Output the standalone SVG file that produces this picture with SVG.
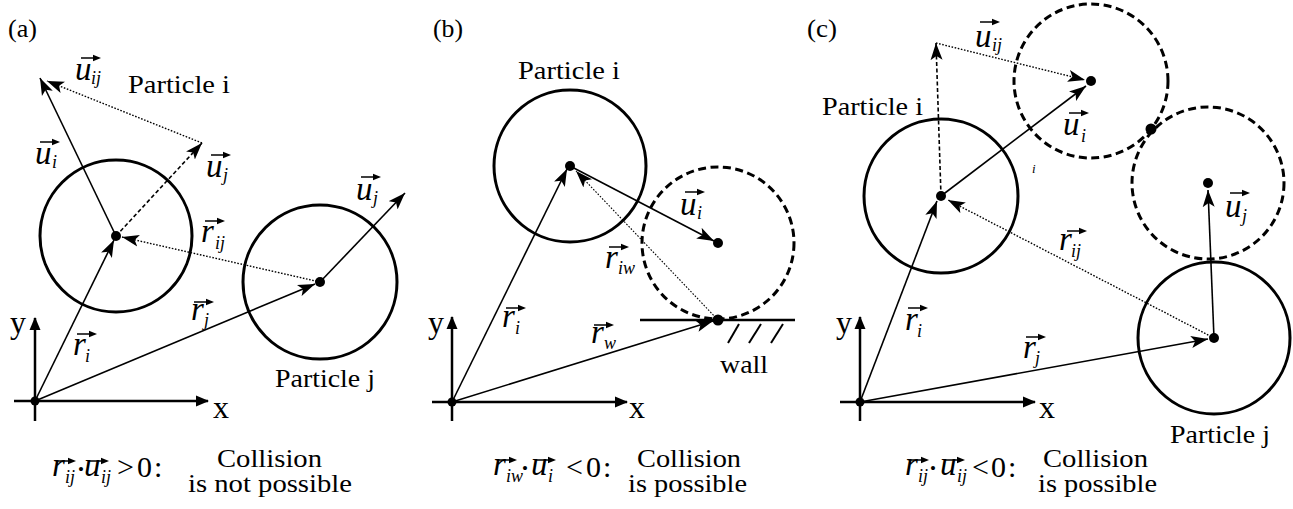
<svg xmlns="http://www.w3.org/2000/svg" xmlns:xlink="http://www.w3.org/1999/xlink" width="1293" height="509" viewBox="0 0 1293 509" font-family="Liberation Serif, Times New Roman, serif">
<style>
.bg{fill:#fff}
.circ{fill:none;stroke:#000;stroke-width:3}
.dcirc{fill:none;stroke:#000;stroke-width:3;stroke-dasharray:8 4.5}
.dot{fill:#000}
.axis{fill:none;stroke:#000;stroke-width:2.5}
.vec{fill:none;stroke:#000;stroke-width:1.6}
.dotted{fill:none;stroke:#000;stroke-width:1.4;stroke-dasharray:1.6 1.6}
.dashed{fill:none;stroke:#000;stroke-width:1.6;stroke-dasharray:4 2.5}
.wall{fill:none;stroke:#000;stroke-width:2.5}
.hatch{fill:none;stroke:#000;stroke-width:2}
.t{font-size:26px;fill:#000}
.ax{font-size:32px;fill:#000}
.m{font-style:italic;font-size:33px;fill:#000}
.s{font-style:italic;font-size:18px;fill:#000}
.op{font-size:30px;fill:#000}
.bul{font-size:17px;fill:#000}
</style>
<defs>
<marker id="ah" markerUnits="userSpaceOnUse" markerWidth="18" markerHeight="13" refX="17" refY="6.5" orient="auto"><path d="M0,0.5 L17,6.5 L0,12.5 L4,6.5 Z" fill="#000"/></marker>
<marker id="axh" markerUnits="userSpaceOnUse" markerWidth="14" markerHeight="12" refX="12" refY="6" orient="auto"><path d="M0,0.5 L13,6 L0,11.5 Z" fill="#000"/></marker>
<g id="ov"><path d="M0,0 H14" stroke="#000" stroke-width="1.5"/><path d="M12,-3.2 L20,0 L12,3.2 Z" fill="#000"/></g>
</defs>
<rect class="bg" x="0" y="0" width="1293" height="509"/>

<!-- Panel (a) -->
<g id="panel-a-label"><text class="t" x="8" y="37" textLength="29" lengthAdjust="spacingAndGlyphs">(a)</text></g>
<g id="a-axes">
<line class="axis" x1="14" y1="401" x2="208" y2="401" marker-end="url(#axh)"/>
<line class="axis" x1="35" y1="421" x2="35" y2="318" marker-end="url(#axh)"/>
<circle class="dot" cx="35" cy="401" r="4.5"/>
<text class="ax" x="213" y="418">x</text>
<text class="ax" x="10" y="333">y</text>
</g>
<g id="a-particle-i">
<circle class="circ" cx="116" cy="236" r="76"/>
<circle class="dot" cx="116" cy="236" r="5"/>
<text class="t" x="128" y="93" textLength="102" lengthAdjust="spacingAndGlyphs">Particle i</text>
</g>
<g id="a-particle-j">
<circle class="circ" cx="320" cy="282" r="77"/>
<circle class="dot" cx="320" cy="282" r="5"/>
<text class="t" x="275" y="387" textLength="100" lengthAdjust="spacingAndGlyphs">Particle j</text>
</g>
<g id="a-connectors">
<line class="vec" x1="35" y1="401" x2="114" y2="240" marker-end="url(#ah)"/>
<line class="vec" x1="35" y1="401" x2="315" y2="284" marker-end="url(#ah)"/>
<line class="dotted" x1="320" y1="282" x2="122" y2="237" marker-end="url(#ah)"/>
<line class="vec" x1="116" y1="236" x2="40" y2="78" marker-end="url(#ah)"/>
<line class="dashed" x1="116" y1="236" x2="202" y2="143" marker-end="url(#ah)"/>
<line class="dotted" x1="202" y1="143" x2="47" y2="81" marker-end="url(#ah)"/>
<line class="vec" x1="320" y1="282" x2="405" y2="193" marker-end="url(#ah)"/>
</g>
<g id="a-labels">
<use xlink:href="#ov" x="81" y="58"/><text class="m" x="75" y="80">u</text><text class="s" x="91" y="84">ij</text>
<use xlink:href="#ov" x="40" y="142"/><text class="m" x="35" y="164">u</text><text class="s" x="52" y="168">i</text>
<use xlink:href="#ov" x="211" y="155"/><text class="m" x="206" y="177">u</text><text class="s" x="223" y="181">j</text>
<use xlink:href="#ov" x="361" y="177"/><text class="m" x="356" y="200">u</text><text class="s" x="373" y="204">j</text>
<use xlink:href="#ov" x="205" y="221"/><text class="m" x="201" y="242">r</text><text class="s" x="215" y="249">ij</text>
<use xlink:href="#ov" x="194" y="302"/><text class="m" x="191" y="320">r</text><text class="s" x="204" y="326">j</text>
<use xlink:href="#ov" x="77" y="334"/><text class="m" x="73" y="355">r</text><text class="s" x="85" y="362">i</text>
</g>
<g id="a-formula">
<use xlink:href="#ov" x="56" y="461"/><text class="m" x="52" y="476">r</text><text class="s" x="65" y="483">ij</text>
<text class="bul" x="78" y="475">•</text>
<use xlink:href="#ov" x="89" y="461"/><text class="m" x="84" y="476">u</text><text class="s" x="101" y="483">ij</text>
<text class="op" x="117 137 154" y="477">&gt;0:</text>
<text class="t" x="217" y="467" textLength="105" lengthAdjust="spacingAndGlyphs">Collision</text>
<text class="t" x="188" y="492" textLength="164" lengthAdjust="spacingAndGlyphs">is not possible</text>
</g>

<!-- Panel (b) -->
<g id="panel-b-label"><text class="t" x="433" y="37" textLength="30" lengthAdjust="spacingAndGlyphs">(b)</text></g>
<g id="b-axes">
<line class="axis" x1="432" y1="402" x2="627" y2="402" marker-end="url(#axh)"/>
<line class="axis" x1="452" y1="421" x2="452" y2="317" marker-end="url(#axh)"/>
<circle class="dot" cx="452" cy="402" r="4.5"/>
<text class="ax" x="629" y="418">x</text>
<text class="ax" x="428" y="333">y</text>
</g>
<g id="b-particle-i">
<circle class="circ" cx="570" cy="166" r="76"/>
<circle class="dot" cx="570" cy="166" r="5"/>
<text class="t" x="518" y="79" textLength="102" lengthAdjust="spacingAndGlyphs">Particle i</text>
</g>
<g id="b-particle-i-next">
<circle class="dcirc" cx="718" cy="243" r="76"/>
<circle class="dot" cx="718" cy="243" r="5"/>
</g>
<g id="b-wall">
<line class="wall" x1="640" y1="320" x2="795" y2="320"/>
<line class="hatch" x1="728" y1="343" x2="739" y2="324"/>
<line class="hatch" x1="749" y1="343" x2="761" y2="324"/>
<line class="hatch" x1="771" y1="343" x2="783" y2="324"/>
<circle class="dot" cx="718" cy="320" r="5.5"/>
<text class="t" x="720" y="373" textLength="48" lengthAdjust="spacingAndGlyphs">wall</text>
</g>
<g id="b-connectors">
<line class="vec" x1="452" y1="402" x2="567" y2="169" marker-end="url(#ah)"/>
<line class="vec" x1="452" y1="402" x2="713" y2="321" marker-end="url(#ah)"/>
<line class="dotted" x1="718" y1="320" x2="576" y2="171" marker-end="url(#ah)" style="stroke-width:1.1"/>
<line class="vec" x1="570" y1="166" x2="714" y2="241" marker-end="url(#ah)"/>
</g>
<g id="b-labels">
<use xlink:href="#ov" x="685" y="192"/><text class="m" x="680" y="215">u</text><text class="s" x="697" y="219">i</text>
<use xlink:href="#ov" x="609" y="247"/><text class="m" x="605" y="268">r</text><text class="s" x="618" y="274">iw</text>
<use xlink:href="#ov" x="594" y="325"/><text class="m" x="591" y="343">r</text><text class="s" x="604" y="349">w</text>
<use xlink:href="#ov" x="506" y="308"/><text class="m" x="502" y="327">r</text><text class="s" x="515" y="334">i</text>
</g>
<g id="b-formula">
<use xlink:href="#ov" x="497" y="460"/><text class="m" x="493" y="475">r</text><text class="s" x="506" y="482">iw</text>
<text class="bul" x="522" y="474">•</text>
<use xlink:href="#ov" x="536" y="460"/><text class="m" x="531" y="475">u</text><text class="s" x="548" y="482">i</text>
<text class="op" x="566 586 603" y="477">&lt;0:</text>
<text class="t" x="637" y="467" textLength="104" lengthAdjust="spacingAndGlyphs">Collision</text>
<text class="t" x="628" y="492" textLength="119" lengthAdjust="spacingAndGlyphs">is possible</text>
</g>

<!-- Panel (c) -->
<g id="panel-c-label"><text class="t" x="807" y="37" textLength="30" lengthAdjust="spacingAndGlyphs">(c)</text></g>
<g id="c-axes">
<line class="axis" x1="840" y1="402" x2="1035" y2="402" marker-end="url(#axh)"/>
<line class="axis" x1="860" y1="421" x2="860" y2="317" marker-end="url(#axh)"/>
<circle class="dot" cx="860" cy="402" r="4.5"/>
<text class="ax" x="1039" y="418">x</text>
<text class="ax" x="836" y="333">y</text>
</g>
<g id="c-particle-i">
<circle class="circ" cx="941" cy="196" r="77"/>
<circle class="dot" cx="941" cy="196" r="5"/>
<text class="t" x="822" y="115" textLength="101" lengthAdjust="spacingAndGlyphs">Particle i</text>
</g>
<g id="c-particle-i-next">
<circle class="dcirc" cx="1091" cy="81" r="77"/>
<circle class="dot" cx="1091" cy="81" r="5"/>
</g>
<g id="c-particle-j-next">
<circle class="dcirc" cx="1208" cy="183" r="76"/>
<circle class="dot" cx="1208" cy="183" r="5"/>
</g>
<g id="c-contact"><circle class="dot" cx="1151" cy="129" r="5.5"/></g>
<g id="c-particle-j">
<circle class="circ" cx="1214" cy="338" r="76"/>
<circle class="dot" cx="1214" cy="338" r="5"/>
<text class="t" x="1170" y="443" textLength="100" lengthAdjust="spacingAndGlyphs">Particle j</text>
</g>
<g id="c-connectors">
<line class="vec" x1="860" y1="402" x2="937" y2="201" marker-end="url(#ah)"/>
<line class="vec" x1="860" y1="402" x2="1208" y2="339" marker-end="url(#ah)"/>
<line class="dotted" x1="1214" y1="338" x2="948" y2="200" marker-end="url(#ah)"/>
<line class="vec" x1="941" y1="196" x2="1086" y2="86" marker-end="url(#ah)"/>
<line class="vec" x1="1214" y1="338" x2="1208" y2="190" marker-end="url(#ah)"/>
<line class="dashed" x1="941" y1="196" x2="936" y2="43" marker-end="url(#ah)"/>
<line class="dotted" x1="936" y1="43" x2="1085" y2="80" marker-end="url(#ah)"/>
</g>
<g id="c-labels">
<use xlink:href="#ov" x="980" y="22"/><text class="m" x="975" y="47">u</text><text class="s" x="992" y="51">ij</text>
<use xlink:href="#ov" x="1069" y="113"/><text class="m" x="1063" y="135">u</text><text class="s" x="1081" y="142">i</text>
<text class="s" x="1032" y="173" style="font-size:13px">i</text>
<use xlink:href="#ov" x="1230" y="193"/><text class="m" x="1225" y="217">u</text><text class="s" x="1242" y="222">j</text>
<use xlink:href="#ov" x="1067" y="231"/><text class="m" x="1059" y="250">r</text><text class="s" x="1071" y="257">ij</text>
<use xlink:href="#ov" x="908" y="308"/><text class="m" x="905" y="330">r</text><text class="s" x="917" y="337">i</text>
<use xlink:href="#ov" x="1026" y="337"/><text class="m" x="1023" y="358">r</text><text class="s" x="1035" y="364">j</text>
</g>
<g id="c-formula">
<use xlink:href="#ov" x="909" y="460"/><text class="m" x="905" y="475">r</text><text class="s" x="918" y="482">ij</text>
<text class="bul" x="930" y="474">•</text>
<use xlink:href="#ov" x="945" y="460"/><text class="m" x="940" y="475">u</text><text class="s" x="957" y="482">ij</text>
<text class="op" x="972 991 1008" y="477">&lt;0:</text>
<text class="t" x="1043" y="467" textLength="105" lengthAdjust="spacingAndGlyphs">Collision</text>
<text class="t" x="1038" y="492" textLength="119" lengthAdjust="spacingAndGlyphs">is possible</text>
</g>
</svg>
